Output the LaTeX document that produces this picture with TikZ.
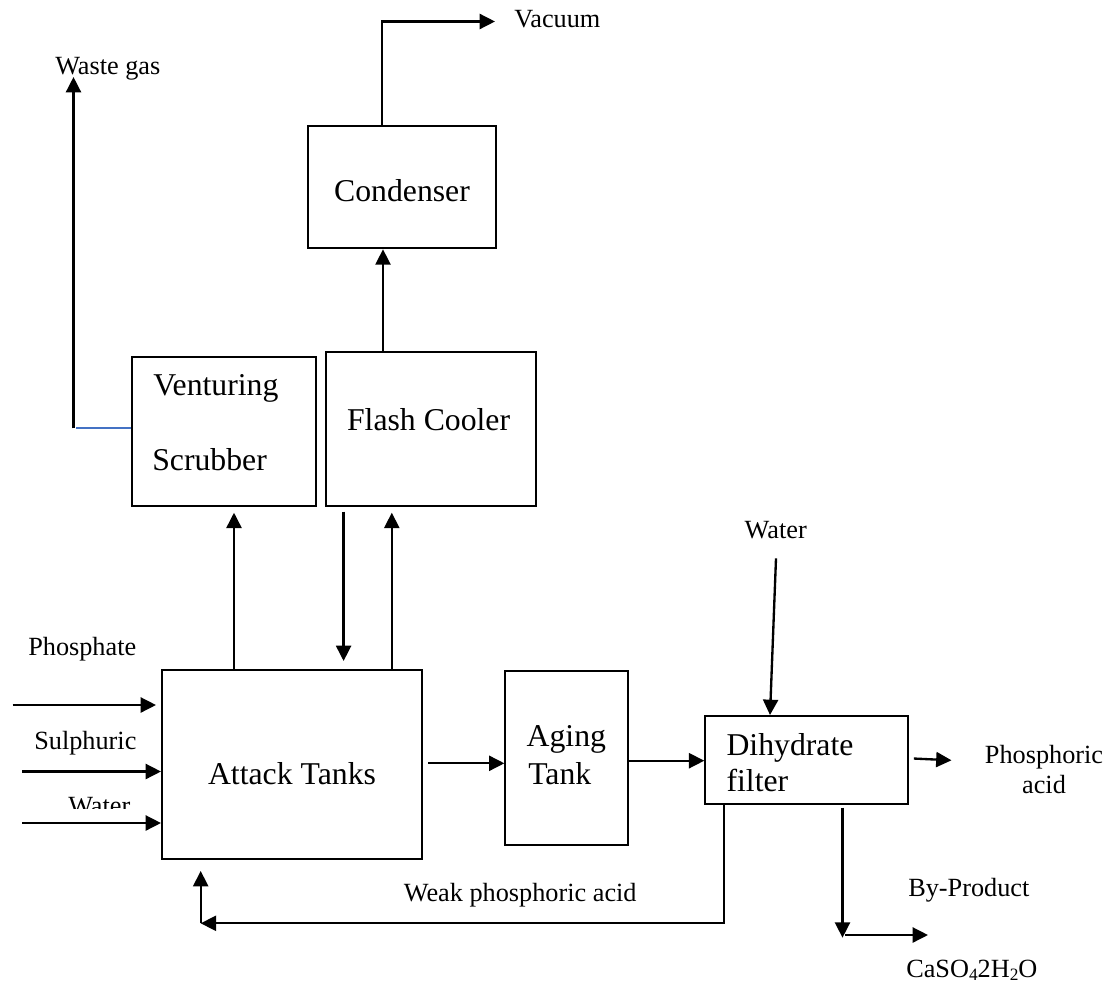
\documentclass[tikz,border=0pt]{standalone}
\usepackage{fontspec}
\setmainfont{Liberation Serif}
\usetikzlibrary{arrows.meta,fit}
\definecolor{wordblue}{RGB}{68,114,196}
\begin{document}
\begin{tikzpicture}[x=0.75pt,y=-0.75pt,
  box/.style={draw, line width=1.5pt, inner sep=0pt},
  arr/.style={line width=1.75pt, -{Triangle[length=11.5pt,width=11.25pt]}},
  big/.style={font=\fontsize{23.8}{28}\selectfont, inner sep=0pt},
  small/.style={font=\fontsize{19.7}{24}\selectfont, inner sep=0pt},
  blueln/.style={draw=wordblue, line width=1.3pt}]
\useasboundingbox (0,0) rectangle (1113,985);

% boxes
\node[box, fit={(308,125.7) (496,248.3)}] (cond) {};
\node[box, fit={(132,356.7) (316,505.7)}] (scrub) {};
\node[box, fit={(326,352.3) (536,505.7)}] (flash) {};
\node[box, fit={(162,670) (422,859.3)}] (attack) {};
\node[box, fit={(505.4,670.7) (628.2,844.7)}] (aging) {};
\node[box, fit={(705.3,716) (908,804)}] (filter) {};

% box texts
\node[big, anchor=base] (tcond) at (402,201.7) {Condenser};
\node[big, anchor=base west] (tven) at (153,395.7) {Venturing};
\node[big, anchor=base west] (tscr) at (152,470) {Scrubber};
\node[big, anchor=base] (tflash) at (428.6,430) {Flash Cooler};
\node[big, anchor=base] (tatt) at (292,784) {Attack Tanks};
\node[big, anchor=base west] (tag1) at (526.4,746.7) {Aging};
\node[big, anchor=base west] (tag2) at (528,784) {Tank};
\node[big, anchor=base west] (tdih) at (726.3,755) {Dihydrate};
\node[big, anchor=base west] (tfil) at (726.3,791.7) {filter};

% labels
\node[small, anchor=base west] (lvac) at (514,27.3) {Vacuum};
\node[small, anchor=base west] (lwaste) at (55,74) {Waste gas};
\node[small, anchor=base west] (lphos) at (28,655) {Phosphate};
\node[small, anchor=base west] (lsulph) at (34,749) {Sulphuric};
\begin{scope}
  \clip (0,780) rectangle (160,808.5);
  \node[small, anchor=base west] (lwl) at (68,814) {Water};
\end{scope}
\node[small, anchor=base] (lwt) at (775.7,538.3) {Water};
\node[small, anchor=base west] (lweak) at (403.6,901.7) {Weak phosphoric acid};
\node[small, anchor=base] (lpa1) at (1044,763) {Phosphoric};
\node[small, anchor=base] (lpa2) at (1044,793.3) {acid};
\node[small, anchor=base west] (lby) at (908,896.7) {By-Product};
\node[small, anchor=base west] (lcas) at (906,977) {CaSO\raisebox{-0.3ex}{\fontsize{13}{14}\selectfont 4}2H\raisebox{-0.3ex}{\fontsize{13}{14}\selectfont 2}O};

% helper coordinates
\coordinate (vac) at (495,21.5);
\coordinate (vx) at (382,0);
\coordinate (fc) at (383,0);
\coordinate (wtop) at (73.5,77);
\coordinate (wbot) at (73.5,428.3);
\coordinate (bend) at (76,428.3);
\coordinate (a1) at (234,0);
\coordinate (a2) at (343.6,0);
\coordinate (a3) at (391.8,0);
\coordinate (ip) at (12.5,705);
\coordinate (is) at (22,771.5);
\coordinate (iw) at (22,823);
\coordinate (ya) at (0,763.3);
\coordinate (yb) at (0,760.7);
\coordinate (wt) at (776,558.3);
\coordinate (wtip) at (770,716);
\coordinate (pstart) at (0,758.3);
\coordinate (pend) at (951.5,760.3);
\coordinate (bp) at (842.5,937.7);
\coordinate (bps) at (845.4,935);
\coordinate (bpe) at (928,935);
\coordinate (rx) at (724.2,0);
\coordinate (rc) at (200.7,923.3);

% connectors
\draw[arr] (cond.north -| vx) |- (vac);
\draw[arr] (flash.north -| fc) -- (cond.south -| fc);
\draw[arr] (wbot) -- (wtop);
\draw[blueln] (scrub.west |- bend) -- (bend);
\draw[arr, shorten >=4.5pt] (attack.north -| a1) -- (scrub.south -| a1);
\draw[arr, shorten <=3.75pt, shorten >=6pt] (flash.south -| a2) -- (attack.north -| a2);
\draw[arr, shorten >=4.5pt] (attack.north -| a3) -- (flash.south -| a3);
\draw[arr, shorten >=3.75pt] (ip) -- (attack.west |- ip);
\draw[arr] (is) -- (attack.west |- is);
\draw[arr] (iw) -- (attack.west |- iw);
\draw[arr, shorten <=4pt] (attack.east |- ya) -- (aging.west |- ya);
\draw[arr] (aging.east |- yb) -- (filter.west |- yb);
\draw[arr] (wt) -- (filter.north -| wtip);
\draw[arr, shorten <=3.6pt] (filter.east |- pstart) -- (pend);
\draw[arr, shorten <=2pt] (filter.south -| bp) -- (bp);
\draw[arr] (bps) -- (bpe);
\draw[arr] (filter.south -| rx) |- (rc);
\draw[arr, shorten >=8pt] (rc) -- (attack.south -| rc);
\end{tikzpicture}
\end{document}
